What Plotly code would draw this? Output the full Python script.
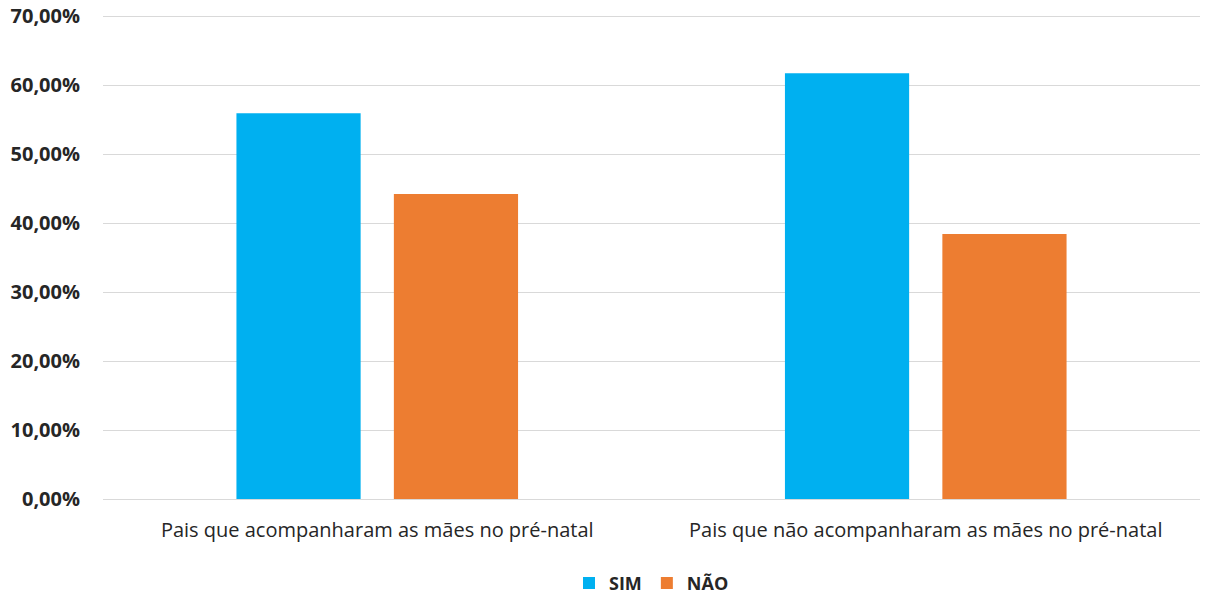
import plotly.graph_objects as go

categories = ["Pais que acompanharam as mães no pré-natal",
              "Pais que não acompanharam as mães no pré-natal"]
sim_values = [0.559, 0.617]
nao_values = [0.442, 0.384]
tick_values = [0, 0.1, 0.2, 0.3, 0.4, 0.5, 0.6, 0.7]

font_family = "'Open Sans', sans-serif"

fig = go.Figure()
fig.add_trace(go.Bar(name="SIM", x=categories, y=sim_values,
                     marker=dict(color="#00B0F0", line=dict(width=0))))
fig.add_trace(go.Bar(name="NÃO", x=categories, y=nao_values,
                     marker=dict(color="#ED7D31", line=dict(width=0))))

fig.update_layout(
    width=1206, height=598,
    barmode="group", bargap=0.426, bargroupgap=0.211,
    separators=",.",
    plot_bgcolor="white", paper_bgcolor="white",
    margin=dict(l=103, r=6, t=15, b=99, autoexpand=False),
    font=dict(family=font_family, color="#262626"),
    showlegend=True,
    legend=dict(orientation="h", x=0.5, xanchor="center", y=-0.136, yanchor="top",
                font=dict(size=18, family=font_family, color="#262626", weight="bold"),
                itemwidth=30, traceorder="normal"),
)
fig.update_yaxes(range=[0, 0.7015], tickvals=tick_values, tickformat=".2%",
                 showgrid=True, gridcolor="#D9D9D9", gridwidth=1.3,
                 zeroline=True, zerolinecolor="#D9D9D9", zerolinewidth=1.3,
                 showline=False, ticks="", ticklen=0, automargin=False,
                 ticklabelstandoff=22,
                 tickfont=dict(size=20, family=font_family, color="#262626", weight="bold"))
fig.update_xaxes(showline=False, ticks="", automargin=False,
                 ticklabelstandoff=17,
                 tickfont=dict(size=20, family=font_family, color="#262626"))

fig.write_html("out.html",
               config={"displayModeBar": False},
               post_script="document.body.style.margin='0px';document.body.style.overflow='hidden';")
